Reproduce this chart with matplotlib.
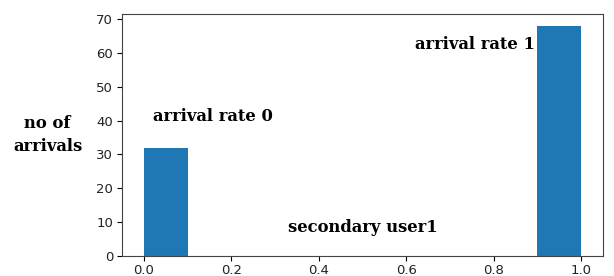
import numpy as np
import matplotlib.pyplot as plt

# arrival rate observed for secondary user1 (0 or 1), 100 samples
rate_values = [0, 1]
rate_counts = [32, 68]
arrivals = np.repeat(rate_values, rate_counts)

font = {'family': 'DejaVu Serif', 'weight': 'bold', 'size': 11.8}

fig = plt.figure(figsize=(6.14, 2.76), dpi=100)
ax = fig.add_axes([0.199, 0.072, 0.783, 0.877])
ax.hist(arrivals, bins=10, color='#1f77b4')
ax.text(0.02, 40.0, 'arrival rate 0', fontdict=font)
ax.text(0.62, 61.0, 'arrival rate 1', fontdict=font)
ax.text(0.33, 7.0, 'secondary user1', fontdict=font)
ax.set_ylabel('no of\narrivals', fontdict=font, rotation=0, labelpad=35,
              va='center', linespacing=1.45)
ax.set_yticks(range(0, 71, 10))
ax.tick_params(labelsize=9.5, labelcolor='#222222', pad=3)
ax.tick_params(axis='x', pad=2)
for s in ax.spines.values():
    s.set_color('#444444')
fig.savefig('out.png')
